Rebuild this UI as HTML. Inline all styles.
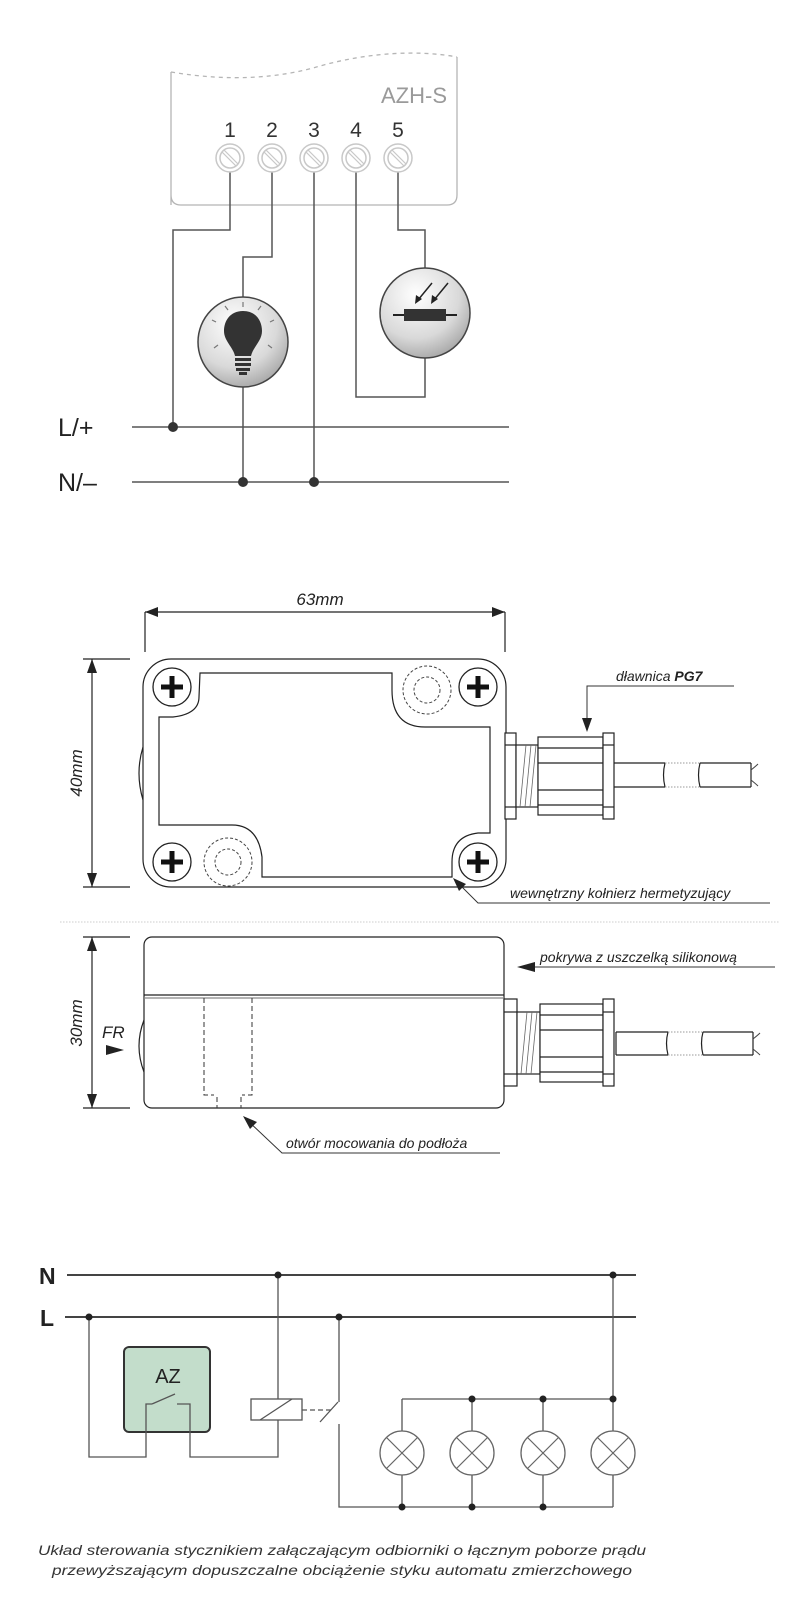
<!DOCTYPE html>
<html><head><meta charset="utf-8"><style>
html,body{margin:0;padding:0;background:#fff}
svg{display:block}
text{font-family:"Liberation Sans",sans-serif}
</style></head><body>
<svg width="785" height="1605" viewBox="0 0 785 1605" xmlns="http://www.w3.org/2000/svg">
<defs>
<radialGradient id="g1" cx="0.4" cy="0.3" r="0.8">
<stop offset="0" stop-color="#ffffff"/><stop offset="0.6" stop-color="#d9d9d9"/><stop offset="1" stop-color="#9a9a9a"/>
</radialGradient>
<g id="term">
<circle r="14" fill="#fff" stroke="#c8c8c8" stroke-width="1.5"/>
<circle r="10" fill="none" stroke="#c8c8c8" stroke-width="1.5"/>
<line x1="-6" y1="-8" x2="8" y2="6" stroke="#c8c8c8" stroke-width="1.2"/>
<line x1="-8" y1="-6" x2="6" y2="8" stroke="#c8c8c8" stroke-width="1.2"/>
</g>
<g id="screw">
<circle r="19" fill="#fff" stroke="#222" stroke-width="1.3"/>
<line x1="-11" y1="0" x2="11" y2="0" stroke="#111" stroke-width="5"/>
<line x1="0" y1="-11" x2="0" y2="11" stroke="#111" stroke-width="5"/>
</g>
<g id="lamp">
<circle r="22" fill="#fff" stroke="#666" stroke-width="1.3"/>
<line x1="-15.5" y1="-15.5" x2="15.5" y2="15.5" stroke="#666" stroke-width="1.2"/>
<line x1="15.5" y1="-15.5" x2="-15.5" y2="15.5" stroke="#666" stroke-width="1.2"/>
</g>
</defs>

<!-- ===== TOP SECTION ===== -->
<path d="M171,205 L171,72 M457,57 L457,195 Q457,205 447,205 L181,205 Q171,205 171,195" fill="none" stroke="#b5b5b5" stroke-width="1.3"/>
<path d="M171,72 C230,82 280,78 320,66 C370,52 420,50 457,57" fill="none" stroke="#b5b5b5" stroke-width="1.3" stroke-dasharray="4,4"/>
<text x="447" y="103" font-size="22" fill="#9a9a9a" text-anchor="end">AZH-S</text>
<g font-size="21" fill="#333" text-anchor="middle">
<text x="230" y="137">1</text><text x="272" y="137">2</text><text x="314" y="137">3</text><text x="356" y="137">4</text><text x="398" y="137">5</text>
</g>
<g fill="none" stroke="#555" stroke-width="1.5">
<polyline points="230,172 230,230 173,230 173,427"/>
<polyline points="272,172 272,257 243,257 243,297"/>
<line x1="243" y1="387" x2="243" y2="482"/>
<line x1="314" y1="172" x2="314" y2="482"/>
<polyline points="356,172 356,397 425,397 425,358"/>
<polyline points="398,172 398,230 425,230 425,268"/>
<line x1="132" y1="427" x2="509" y2="427"/>
<line x1="132" y1="482" x2="509" y2="482"/>
</g>
<use href="#term" x="230" y="158"/><use href="#term" x="272" y="158"/><use href="#term" x="314" y="158"/><use href="#term" x="356" y="158"/><use href="#term" x="398" y="158"/>
<g fill="#333"><circle cx="173" cy="427" r="5"/><circle cx="243" cy="482" r="5"/><circle cx="314" cy="482" r="5"/></g>
<text x="58" y="436" font-size="25" fill="#222">L/+</text>
<text x="58" y="491" font-size="25" fill="#222">N/–</text>
<!-- lamp -->
<circle cx="243" cy="342" r="45" fill="url(#g1)" stroke="#444" stroke-width="1.5"/>
<path d="M243,311 C230,311 224,321 224,331 C224,341 233,347 235,356 L251,356 C253,347 262,341 262,331 C262,321 256,311 243,311 Z" fill="#333"/>
<rect x="235" y="358" width="16" height="3" fill="#333"/><rect x="235" y="363" width="16" height="3" fill="#333"/><rect x="236" y="368" width="14" height="3" fill="#333"/><rect x="239" y="372" width="8" height="3" fill="#333"/>
<g stroke="#777" stroke-width="1.2">
<line x1="243" y1="302" x2="243" y2="307"/><line x1="225" y1="306" x2="228" y2="310"/><line x1="261" y1="306" x2="258" y2="310"/>
<line x1="212" y1="320" x2="216" y2="322"/><line x1="274" y1="320" x2="270" y2="322"/>
<line x1="214" y1="348" x2="218" y2="345"/><line x1="272" y1="348" x2="268" y2="345"/>
</g>
<!-- photoresistor -->
<circle cx="425" cy="313" r="45" fill="url(#g1)" stroke="#444" stroke-width="1.5"/>
<line x1="393" y1="315" x2="457" y2="315" stroke="#222" stroke-width="2"/>
<rect x="404" y="309" width="42" height="12" fill="#333"/>
<g stroke="#222" stroke-width="1.5"><line x1="432" y1="283" x2="418" y2="300"/><line x1="448" y1="283" x2="434" y2="300"/></g>
<polygon points="415,304 416,295 422,299" fill="#222"/><polygon points="431,304 432,295 438,299" fill="#222"/>

<!-- ===== TOP VIEW ===== -->
<g stroke="#222" stroke-width="1.2" fill="none">
<line x1="145" y1="612" x2="505" y2="612"/>
<line x1="145" y1="612" x2="145" y2="652"/>
<line x1="505" y1="612" x2="505" y2="652"/>
<line x1="92" y1="659" x2="92" y2="887"/>
<line x1="83" y1="659" x2="130" y2="659"/>
<line x1="83" y1="887" x2="130" y2="887"/>
<rect x="143" y="659" width="363" height="228" rx="28"/>
<path d="M143,747 Q135,773 143,800"/>
<path d="M200,673 L392,673 L392,690 Q392,727 425,727 L490,727 L490,833 L478,833 Q452,836 452,862 L452,877 L262,877 L262,857 Q258,825 232,825 L159,825 L159,717 L173,717 Q199,714 199,697 L200,673 Z"/>
</g>
<g fill="#222">
<polygon points="145,612 158,607 158,617"/><polygon points="505,612 492,607 492,617"/>
<polygon points="92,659 87,673 97,673"/><polygon points="92,887 87,873 97,873"/>
</g>
<text x="320" y="605" font-size="17" font-style="italic" fill="#222" text-anchor="middle">63mm</text>
<text transform="translate(82,773) rotate(-90)" font-size="17" font-style="italic" fill="#222" text-anchor="middle">40mm</text>
<use href="#screw" x="172" y="687"/><use href="#screw" x="478" y="687"/><use href="#screw" x="172" y="862"/><use href="#screw" x="478" y="862"/>
<g fill="none" stroke="#444" stroke-width="1" stroke-dasharray="3,2">
<circle cx="427" cy="690" r="24"/><circle cx="427" cy="690" r="13"/>
<circle cx="228" cy="862" r="24"/><circle cx="228" cy="862" r="13"/>
</g>
<!-- gland top -->
<g stroke="#222" stroke-width="1.2" fill="#fff">
<rect x="505" y="733" width="11" height="86"/>
<line x1="505" y1="745" x2="516" y2="745"/><line x1="505" y1="807" x2="516" y2="807"/>
<rect x="516" y="745" width="22" height="62"/>
<rect x="538" y="737" width="65" height="78"/>
<line x1="538" y1="748" x2="603" y2="748"/><line x1="538" y1="763" x2="603" y2="763"/><line x1="538" y1="790" x2="603" y2="790"/><line x1="538" y1="805" x2="603" y2="805"/>
<rect x="603" y="733" width="11" height="86"/>
<line x1="603" y1="745" x2="614" y2="745"/><line x1="603" y1="807" x2="614" y2="807"/>
<line x1="614" y1="763" x2="665" y2="763"/><line x1="614" y1="787" x2="665" y2="787"/>
<line x1="700" y1="763" x2="751" y2="763"/><line x1="700" y1="787" x2="751" y2="787"/>
<line x1="751" y1="763" x2="751" y2="787"/>
<path d="M665,763 Q662,775 665,787 M700,763 Q697,775 700,787" fill="none"/>
</g>
<g stroke="#999" stroke-width="1" stroke-dasharray="1.5,1.5"><line x1="665" y1="763" x2="700" y2="763"/><line x1="665" y1="787" x2="700" y2="787"/></g>
<path d="M751,770 Q756,766 758,764 M751,780 Q756,784 758,786" stroke="#444" fill="none"/>
<g stroke="#666" stroke-width="0.8"><line x1="520" y1="807" x2="526" y2="745"/><line x1="525" y1="807" x2="531" y2="745"/><line x1="530" y1="807" x2="536" y2="745"/></g>
<polyline points="587,728 587,686 734,686" fill="none" stroke="#333" stroke-width="1"/>
<polygon points="587,732 582,718 592,718" fill="#222"/>
<text x="616" y="681" font-size="14" font-style="italic" fill="#222">dławnica <tspan font-weight="bold">PG7</tspan></text>
<polyline points="455,880 478,903 770,903" fill="none" stroke="#333" stroke-width="1"/>
<polygon points="453,878 466,884 459,891" fill="#222"/>
<text x="510" y="898" font-size="14" font-style="italic" fill="#222">wewnętrzny kołnierz hermetyzujący</text>

<line x1="60" y1="922" x2="780" y2="922" stroke="#ccc" stroke-width="1" stroke-dasharray="1.5,1.5"/>

<!-- ===== SIDE VIEW ===== -->
<g stroke="#222" stroke-width="1.2" fill="none">
<line x1="92" y1="937" x2="92" y2="1108"/>
<line x1="83" y1="937" x2="130" y2="937"/>
<line x1="83" y1="1108" x2="130" y2="1108"/>
<rect x="144" y="937" width="360" height="171" rx="8"/>
<line x1="144" y1="995" x2="504" y2="995"/>
<line x1="144" y1="998" x2="504" y2="998" stroke="#888"/>
<path d="M144,1020 Q134,1046 144,1072"/>
</g>
<g fill="none" stroke="#333" stroke-width="1" stroke-dasharray="5,3">
<polyline points="204,998 204,1095 214,1095"/>
<line x1="217" y1="1097" x2="217" y2="1108"/>
<polyline points="252,998 252,1095 242,1095"/>
<line x1="241" y1="1097" x2="241" y2="1108"/>
</g>
<g fill="#222">
<polygon points="92,937 87,951 97,951"/><polygon points="92,1108 87,1094 97,1094"/>
<polygon points="106,1045 124,1050 106,1055"/>
</g>
<text transform="translate(82,1023) rotate(-90)" font-size="17" font-style="italic" fill="#222" text-anchor="middle">30mm</text>
<text x="102" y="1038" font-size="17" font-style="italic" fill="#222">FR</text>
<g stroke="#222" stroke-width="1.2" fill="#fff">
<rect x="504" y="999" width="13" height="87"/>
<line x1="504" y1="1012" x2="517" y2="1012"/><line x1="504" y1="1074" x2="517" y2="1074"/>
<rect x="517" y="1012" width="23" height="62"/>
<rect x="540" y="1004" width="63" height="78"/>
<line x1="540" y1="1015" x2="603" y2="1015"/><line x1="540" y1="1030" x2="603" y2="1030"/><line x1="540" y1="1057" x2="603" y2="1057"/><line x1="540" y1="1072" x2="603" y2="1072"/>
<rect x="603" y="999" width="11" height="87"/>
<line x1="603" y1="1012" x2="614" y2="1012"/><line x1="603" y1="1074" x2="614" y2="1074"/>
<line x1="616" y1="1032" x2="668" y2="1032"/><line x1="616" y1="1055" x2="668" y2="1055"/><line x1="616" y1="1032" x2="616" y2="1055"/>
<line x1="703" y1="1032" x2="753" y2="1032"/><line x1="703" y1="1055" x2="753" y2="1055"/>
<line x1="753" y1="1032" x2="753" y2="1055"/>
<path d="M668,1032 Q665,1043 668,1055 M703,1032 Q700,1043 703,1055" fill="none"/>
</g>
<g stroke="#999" stroke-width="1" stroke-dasharray="1.5,1.5"><line x1="668" y1="1032" x2="703" y2="1032"/><line x1="668" y1="1055" x2="703" y2="1055"/></g>
<path d="M753,1039 Q758,1035 760,1033 M753,1049 Q758,1053 760,1055" stroke="#444" fill="none"/>
<g stroke="#666" stroke-width="0.8"><line x1="521" y1="1074" x2="527" y2="1012"/><line x1="526" y1="1074" x2="532" y2="1012"/><line x1="531" y1="1074" x2="537" y2="1012"/></g>
<line x1="530" y1="967" x2="775" y2="967" stroke="#333" stroke-width="1"/>
<polygon points="517,967 535,962 535,972" fill="#222"/>
<text x="540" y="962" font-size="14" font-style="italic" fill="#222">pokrywa z uszczelką silikonową</text>
<polyline points="247,1120 282,1153 500,1153" fill="none" stroke="#333" stroke-width="1"/>
<polygon points="243,1116 257,1122 250,1129" fill="#222"/>
<text x="286" y="1148" font-size="14" font-style="italic" fill="#222">otwór mocowania do podłoża</text>

<!-- ===== CIRCUIT ===== -->
<g stroke="#444" stroke-width="2" fill="none">
<line x1="67" y1="1275" x2="636" y2="1275"/>
<line x1="65" y1="1317" x2="636" y2="1317"/>
</g>
<text x="39" y="1284" font-size="23" font-weight="bold" fill="#222">N</text>
<text x="40" y="1326" font-size="23" font-weight="bold" fill="#222">L</text>
<rect x="124" y="1347" width="86" height="85" rx="5" fill="#c3ddcb" stroke="#333" stroke-width="2"/>
<text x="168" y="1383" font-size="20" fill="#222" text-anchor="middle">AZ</text>
<g stroke="#555" stroke-width="1.3" fill="none">
<polyline points="89,1317 89,1457 146,1457 146,1404 152,1404"/>
<line x1="152" y1="1404" x2="175" y2="1394"/>
<polyline points="177,1404 190,1404 190,1457 278,1457 278,1420"/>
<line x1="278" y1="1275" x2="278" y2="1399"/>
<rect x="251" y="1399" width="51" height="21"/>
<line x1="260" y1="1420" x2="292" y2="1399"/>
<line x1="302" y1="1410" x2="331" y2="1410" stroke-dasharray="5,3"/>
<line x1="339" y1="1317" x2="339" y2="1402"/>
<line x1="320" y1="1422" x2="338" y2="1402"/>
<polyline points="339,1424 339,1507 613,1507"/>
<line x1="613" y1="1275" x2="613" y2="1399"/>
<line x1="402" y1="1399" x2="613" y2="1399"/>
<line x1="402" y1="1399" x2="402" y2="1431"/><line x1="472" y1="1399" x2="472" y2="1431"/><line x1="543" y1="1399" x2="543" y2="1431"/><line x1="613" y1="1399" x2="613" y2="1431"/>
<line x1="402" y1="1475" x2="402" y2="1507"/><line x1="472" y1="1475" x2="472" y2="1507"/><line x1="543" y1="1475" x2="543" y2="1507"/><line x1="613" y1="1475" x2="613" y2="1507"/>
</g>
<use href="#lamp" x="402" y="1453"/><use href="#lamp" x="472" y="1453"/><use href="#lamp" x="543" y="1453"/><use href="#lamp" x="613" y="1453"/>
<g fill="#222">
<circle cx="89" cy="1317" r="3.5"/><circle cx="278" cy="1275" r="3.5"/><circle cx="339" cy="1317" r="3.5"/><circle cx="613" cy="1275" r="3.5"/>
<circle cx="472" cy="1399" r="3.5"/><circle cx="543" cy="1399" r="3.5"/><circle cx="613" cy="1399" r="3.5"/>
<circle cx="402" cy="1507" r="3.5"/><circle cx="472" cy="1507" r="3.5"/><circle cx="543" cy="1507" r="3.5"/>
</g>
<text x="342" y="1555" font-size="13.5" font-style="italic" fill="#333" text-anchor="middle" textLength="608" lengthAdjust="spacingAndGlyphs">Układ sterowania stycznikiem załączającym odbiorniki o łącznym poborze prądu</text>
<text x="342" y="1575" font-size="13.5" font-style="italic" fill="#333" text-anchor="middle" textLength="580" lengthAdjust="spacingAndGlyphs">przewyższającym dopuszczalne obciążenie styku automatu zmierzchowego</text>
</svg>
</body></html>
